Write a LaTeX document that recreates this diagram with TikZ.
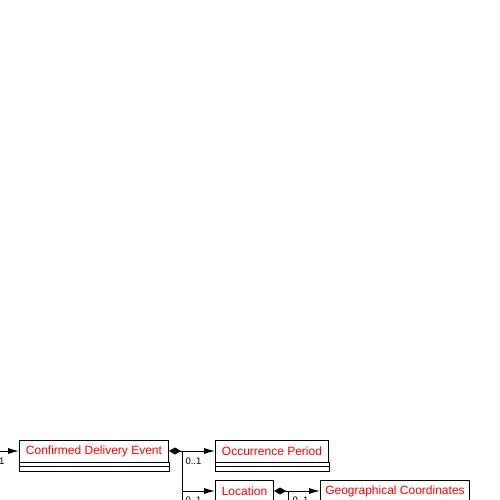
\documentclass[tikz,border=0pt]{standalone}
\usepackage{fontspec}
\setmainfont{Liberation Sans}
\usetikzlibrary{arrows.meta}
\begin{document}
\begin{tikzpicture}[x=1pt,y=-1pt,line width=1pt,
  cls/.style={draw, anchor=west, minimum height=22pt, inner sep=0pt, text=red, font=\fontsize{12}{14}\selectfont},
  mult/.style={inner sep=0pt, font=\fontsize{9.5}{10}\selectfont},
  conn/.style={-{Latex[length=11pt,width=6pt]}},
  comp/.style={{Diamond[length=12pt,width=7pt]}-{Latex[length=11pt,width=6pt]}}]
\useasboundingbox (0,0) rectangle (500,500);
\node[cls, minimum width=149pt] (cde) at (19,451) {Confirmed Delivery Event};
\node[cls, minimum width=113pt] (op) at (215,451) {Occurrence Period};
\node[cls, minimum width=58pt] (loc) at (215,491) {Location};
\node[cls, minimum width=149pt] (gc) at (320,491) {Geographical Coordinates};
\foreach \n in {cde,op,loc,gc}{
  \draw (\n.south west) rectangle ([yshift=-9pt]\n.south east);
  \draw ([yshift=-4pt]\n.south west) -- ([yshift=-4pt]\n.south east);
}
\coordinate (in) at (-2,451);
\draw[conn] (in) -- (cde.west);
\node[mult, anchor=north east] (m0) at (5,457) {0..1};
\coordinate (b1) at (182,451);
\draw[comp] (cde.east) -- (op.west);
\draw[conn] (b1) -- (b1 |- loc.west) -- (loc.west);
\node[mult, anchor=north west] (m1) at (185,457) {0..1};
\node[mult, anchor=north west] (m2) at (185,496) {0..1};
\coordinate (b2) at (288,491);
\draw[comp] (loc.east) -- (gc.west);
\draw (b2) -- (288,505);
\draw (b1) -- (182,505);
\node[mult, anchor=north west] (m3) at (292,496) {0..1};
\end{tikzpicture}
\end{document}
